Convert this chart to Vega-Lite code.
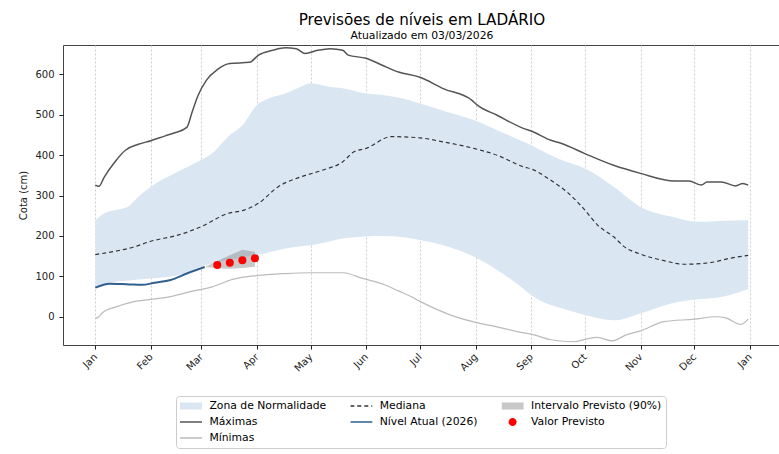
{
  "$schema": "https://vega.github.io/schema/vega-lite/v6.json",
  "autosize": {"type": "none"},
  "padding": {"left": 63, "top": 45, "right": 0, "bottom": 109},
  "width": 718,
  "height": 300,
  "background": "#ffffff",
  "title": {
    "text": "Previsões de níveis em LADÁRIO",
    "subtitle": "Atualizado em 03/03/2026",
    "fontSize": 15.2,
    "fontWeight": "normal",
    "subtitleFontSize": 10.8,
    "anchor": "middle",
    "offset": 4,
    "subtitlePadding": 2,
    "color": "#000000",
    "subtitleColor": "#000000"
  },
  "config": {
    "font": "DejaVu Sans",
    "view": {"stroke": "#444444", "strokeWidth": 1},
    "axis": {"labelColor": "#222222", "tickColor": "#222222", "titleColor": "#222222", "labelFont": "DejaVu Sans", "titleFont": "DejaVu Sans"},
    "legend": {"labelFont": "DejaVu Sans"}
  },
  "datasets": {
    "band": [
      {"date": "2026-01-01", "lo": 74, "hi": 239},
      {"date": "2026-01-06", "lo": 80, "hi": 256},
      {"date": "2026-01-13", "lo": 87, "hi": 265},
      {"date": "2026-01-19", "lo": 89, "hi": 272},
      {"date": "2026-01-25", "lo": 92, "hi": 297},
      {"date": "2026-02-01", "lo": 95, "hi": 322},
      {"date": "2026-02-16", "lo": 103, "hi": 359},
      {"date": "2026-03-01", "lo": 124, "hi": 388},
      {"date": "2026-03-07", "lo": 132, "hi": 404},
      {"date": "2026-03-16", "lo": 140, "hi": 446},
      {"date": "2026-03-24", "lo": 147, "hi": 474},
      {"date": "2026-04-01", "lo": 153, "hi": 524},
      {"date": "2026-04-08", "lo": 160, "hi": 541},
      {"date": "2026-04-17", "lo": 169, "hi": 553},
      {"date": "2026-04-28", "lo": 176, "hi": 574},
      {"date": "2026-05-01", "lo": 177, "hi": 578},
      {"date": "2026-05-12", "lo": 187, "hi": 569},
      {"date": "2026-05-19", "lo": 194, "hi": 566},
      {"date": "2026-06-01", "lo": 199, "hi": 553},
      {"date": "2026-06-09", "lo": 200, "hi": 550},
      {"date": "2026-06-22", "lo": 197, "hi": 540},
      {"date": "2026-07-01", "lo": 190, "hi": 528},
      {"date": "2026-07-14", "lo": 177, "hi": 510},
      {"date": "2026-07-31", "lo": 149, "hi": 487},
      {"date": "2026-08-13", "lo": 116, "hi": 462},
      {"date": "2026-08-28", "lo": 68, "hi": 433},
      {"date": "2026-09-01", "lo": 54, "hi": 425},
      {"date": "2026-09-12", "lo": 29, "hi": 400},
      {"date": "2026-09-18", "lo": 21, "hi": 388},
      {"date": "2026-10-01", "lo": 4, "hi": 367},
      {"date": "2026-10-17", "lo": -9, "hi": 322},
      {"date": "2026-11-01", "lo": 8, "hi": 272},
      {"date": "2026-11-18", "lo": 33, "hi": 248},
      {"date": "2026-12-03", "lo": 43, "hi": 235},
      {"date": "2026-12-18", "lo": 51, "hi": 238},
      {"date": "2026-12-31", "lo": 69, "hi": 239}
    ],
    "maximas": [
      {"date": "2026-01-01", "v": 326},
      {"date": "2026-01-03", "v": 323},
      {"date": "2026-01-06", "v": 346},
      {"date": "2026-01-12", "v": 384},
      {"date": "2026-01-18", "v": 413},
      {"date": "2026-01-25", "v": 427},
      {"date": "2026-02-01", "v": 436},
      {"date": "2026-02-09", "v": 448},
      {"date": "2026-02-14", "v": 455},
      {"date": "2026-02-21", "v": 469},
      {"date": "2026-02-24", "v": 507},
      {"date": "2026-02-27", "v": 545},
      {"date": "2026-03-04", "v": 586},
      {"date": "2026-03-10", "v": 612},
      {"date": "2026-03-17", "v": 627},
      {"date": "2026-03-28", "v": 630},
      {"date": "2026-04-02", "v": 648},
      {"date": "2026-04-10", "v": 660},
      {"date": "2026-04-17", "v": 666},
      {"date": "2026-04-23", "v": 664},
      {"date": "2026-04-28", "v": 652},
      {"date": "2026-05-05", "v": 660},
      {"date": "2026-05-12", "v": 664},
      {"date": "2026-05-19", "v": 660},
      {"date": "2026-05-22", "v": 648},
      {"date": "2026-06-01", "v": 640},
      {"date": "2026-06-10", "v": 623},
      {"date": "2026-06-19", "v": 606},
      {"date": "2026-07-01", "v": 593},
      {"date": "2026-07-14", "v": 565},
      {"date": "2026-07-30", "v": 536},
      {"date": "2026-08-02", "v": 524},
      {"date": "2026-08-13", "v": 499},
      {"date": "2026-08-28", "v": 466},
      {"date": "2026-09-01", "v": 460},
      {"date": "2026-09-12", "v": 437},
      {"date": "2026-09-18", "v": 429},
      {"date": "2026-10-01", "v": 404},
      {"date": "2026-10-17", "v": 375},
      {"date": "2026-11-01", "v": 355},
      {"date": "2026-11-20", "v": 336},
      {"date": "2026-11-28", "v": 336},
      {"date": "2026-12-05", "v": 326},
      {"date": "2026-12-08", "v": 334},
      {"date": "2026-12-16", "v": 334},
      {"date": "2026-12-24", "v": 324},
      {"date": "2026-12-28", "v": 330},
      {"date": "2026-12-31", "v": 326}
    ],
    "minimas": [
      {"date": "2026-01-01", "v": -4},
      {"date": "2026-01-03", "v": 0},
      {"date": "2026-01-05", "v": 10},
      {"date": "2026-01-13", "v": 25},
      {"date": "2026-01-22", "v": 37},
      {"date": "2026-02-01", "v": 43},
      {"date": "2026-02-12", "v": 50},
      {"date": "2026-02-23", "v": 62},
      {"date": "2026-03-07", "v": 74},
      {"date": "2026-03-19", "v": 93},
      {"date": "2026-04-01", "v": 102},
      {"date": "2026-04-17", "v": 107},
      {"date": "2026-05-01", "v": 109},
      {"date": "2026-05-19", "v": 109},
      {"date": "2026-05-30", "v": 95},
      {"date": "2026-06-12", "v": 78},
      {"date": "2026-06-19", "v": 64},
      {"date": "2026-06-26", "v": 50},
      {"date": "2026-07-01", "v": 38},
      {"date": "2026-07-17", "v": 6},
      {"date": "2026-08-01", "v": -14},
      {"date": "2026-08-13", "v": -25},
      {"date": "2026-08-28", "v": -40},
      {"date": "2026-09-01", "v": -43},
      {"date": "2026-09-12", "v": -57},
      {"date": "2026-09-25", "v": -62},
      {"date": "2026-10-01", "v": -56},
      {"date": "2026-10-08", "v": -51},
      {"date": "2026-10-16", "v": -60},
      {"date": "2026-10-24", "v": -45},
      {"date": "2026-11-01", "v": -35},
      {"date": "2026-11-14", "v": -12},
      {"date": "2026-12-01", "v": -6},
      {"date": "2026-12-13", "v": 0},
      {"date": "2026-12-18", "v": -2},
      {"date": "2026-12-27", "v": -19},
      {"date": "2026-12-31", "v": -6}
    ],
    "mediana": [
      {"date": "2026-01-01", "v": 154},
      {"date": "2026-01-13", "v": 163},
      {"date": "2026-01-22", "v": 172},
      {"date": "2026-02-01", "v": 187},
      {"date": "2026-02-16", "v": 202},
      {"date": "2026-03-01", "v": 223},
      {"date": "2026-03-16", "v": 256},
      {"date": "2026-03-25", "v": 264},
      {"date": "2026-04-02", "v": 281},
      {"date": "2026-04-13", "v": 322},
      {"date": "2026-04-26", "v": 347},
      {"date": "2026-05-07", "v": 362},
      {"date": "2026-05-19", "v": 384},
      {"date": "2026-05-25", "v": 408},
      {"date": "2026-06-01", "v": 417},
      {"date": "2026-06-15", "v": 446},
      {"date": "2026-07-01", "v": 443},
      {"date": "2026-07-14", "v": 433},
      {"date": "2026-07-31", "v": 417},
      {"date": "2026-08-13", "v": 400},
      {"date": "2026-08-28", "v": 371},
      {"date": "2026-09-01", "v": 366},
      {"date": "2026-09-12", "v": 338},
      {"date": "2026-09-21", "v": 309},
      {"date": "2026-10-01", "v": 264},
      {"date": "2026-10-08", "v": 227},
      {"date": "2026-10-17", "v": 198},
      {"date": "2026-10-23", "v": 173},
      {"date": "2026-11-01", "v": 155},
      {"date": "2026-11-14", "v": 139},
      {"date": "2026-11-25", "v": 130},
      {"date": "2026-12-10", "v": 134},
      {"date": "2026-12-21", "v": 145},
      {"date": "2026-12-31", "v": 152}
    ],
    "atual": [
      {"date": "2026-01-01", "v": 72},
      {"date": "2026-01-09", "v": 82},
      {"date": "2026-01-20", "v": 80},
      {"date": "2026-01-27", "v": 79},
      {"date": "2026-02-03", "v": 84},
      {"date": "2026-02-12", "v": 91},
      {"date": "2026-02-21", "v": 107},
      {"date": "2026-02-27", "v": 117},
      {"date": "2026-03-03", "v": 123}
    ],
    "intervalo": [
      {"date": "2026-03-03", "lo": 123, "hi": 123},
      {"date": "2026-03-10", "lo": 120, "hi": 138},
      {"date": "2026-03-17", "lo": 119, "hi": 152},
      {"date": "2026-03-24", "lo": 121, "hi": 166},
      {"date": "2026-03-31", "lo": 124, "hi": 161}
    ],
    "previsto": [
      {"date": "2026-03-10", "v": 128},
      {"date": "2026-03-17", "v": 134},
      {"date": "2026-03-24", "v": 140},
      {"date": "2026-03-31", "v": 145}
    ],
    "legenda": [
      {"serie": "Zona de Normalidade"},
      {"serie": "Mediana"},
      {"serie": "Intervalo Previsto (90%)"},
      {"serie": "Máximas"},
      {"serie": "Nível Atual (2026)"},
      {"serie": "Valor Previsto"},
      {"serie": "Mínimas"}
    ]
  },
  "layer": [
    {
      "data": {"name": "band"},
      "mark": {"type": "area", "fill": "#dbe6f3", "opacity": 1, "interpolate": "monotone"},
      "encoding": {
        "x": {
          "field": "date", "type": "temporal",
          "scale": {"type": "utc", "domain": [{"year": 2025, "month": 12, "date": 14, "utc": true}, {"year": 2027, "month": 1, "date": 18, "hours": 7, "utc": true}]},
          "axis": {
            "values": [
              {"year": 2026, "month": 1, "date": 1, "utc": true},
              {"year": 2026, "month": 2, "date": 1, "utc": true},
              {"year": 2026, "month": 3, "date": 1, "utc": true},
              {"year": 2026, "month": 4, "date": 1, "utc": true},
              {"year": 2026, "month": 5, "date": 1, "utc": true},
              {"year": 2026, "month": 6, "date": 1, "utc": true},
              {"year": 2026, "month": 7, "date": 1, "utc": true},
              {"year": 2026, "month": 8, "date": 1, "utc": true},
              {"year": 2026, "month": 9, "date": 1, "utc": true},
              {"year": 2026, "month": 10, "date": 1, "utc": true},
              {"year": 2026, "month": 11, "date": 1, "utc": true},
              {"year": 2026, "month": 12, "date": 1, "utc": true},
              {"year": 2027, "month": 1, "date": 1, "utc": true}
            ],
            "format": "%b",
            "labelAngle": -45,
            "labelAlign": "right",
            "labelBaseline": "middle",
            "labelOverlap": false,
            "labelFontSize": 10,
            "labelPadding": 6,
            "grid": true,
            "gridDash": [2, 2],
            "gridColor": "#cfcfcf",
            "tickSize": 4,
            "domain": false,
            "title": null
          }
        },
        "y": {
          "field": "lo", "type": "quantitative",
          "scale": {"domain": [-70, 673], "nice": false, "zero": false},
          "axis": {
            "values": [0, 100, 200, 300, 400, 500, 600],
            "grid": false,
            "domain": false,
            "tickSize": 4,
            "labelFontSize": 10,
            "labelPadding": 5,
            "title": "Cota (cm)",
            "titleFontSize": 10,
            "titleFontWeight": "normal",
            "titlePadding": 6
          }
        },
        "y2": {"field": "hi"}
      }
    },
    {
      "data": {"name": "mediana"},
      "mark": {"type": "line", "stroke": "#333333", "strokeWidth": 1.2, "strokeDash": [4, 3], "interpolate": "monotone"},
      "encoding": {
        "x": {"field": "date", "type": "temporal"},
        "y": {"field": "v", "type": "quantitative"}
      }
    },
    {
      "data": {"name": "intervalo"},
      "mark": {"type": "area", "fill": "#888888", "opacity": 0.45},
      "encoding": {
        "x": {"field": "date", "type": "temporal"},
        "y": {"field": "lo", "type": "quantitative"},
        "y2": {"field": "hi"}
      }
    },
    {
      "data": {"name": "maximas"},
      "mark": {"type": "line", "stroke": "#555555", "strokeWidth": 1.5, "interpolate": "monotone"},
      "encoding": {
        "x": {"field": "date", "type": "temporal"},
        "y": {"field": "v", "type": "quantitative"}
      }
    },
    {
      "data": {"name": "atual"},
      "mark": {"type": "line", "stroke": "#31608f", "strokeWidth": 2, "interpolate": "monotone"},
      "encoding": {
        "x": {"field": "date", "type": "temporal"},
        "y": {"field": "v", "type": "quantitative"}
      }
    },
    {
      "data": {"name": "previsto"},
      "mark": {"type": "circle", "size": 64, "opacity": 1, "color": "#ff0000"},
      "encoding": {
        "x": {"field": "date", "type": "temporal"},
        "y": {"field": "v", "type": "quantitative"}
      }
    },
    {
      "data": {"name": "minimas"},
      "mark": {"type": "line", "stroke": "#bbbbbb", "strokeWidth": 1.2, "interpolate": "monotone"},
      "encoding": {
        "x": {"field": "date", "type": "temporal"},
        "y": {"field": "v", "type": "quantitative"}
      }
    },
    {
      "data": {"name": "legenda"},
      "mark": {"type": "point", "opacity": 0},
      "encoding": {
        "fill": {
          "field": "serie", "type": "nominal",
          "scale": {
            "domain": ["Zona de Normalidade", "Mediana", "Intervalo Previsto (90%)", "Máximas", "Nível Atual (2026)", "Valor Previsto", "Mínimas"],
            "range": ["#dbe6f3", "transparent", "#c8c8c8", "transparent", "transparent", "#ff0000", "transparent"]
          },
          "legend": {"title": null, "orient": "none", "legendX": 113, "legendY": 351, "direction": "horizontal", "columns": 3, "symbolSize": 100, "symbolOffset": 5, "labelOffset": 12.4, "clipHeight": 12, "rowPadding": 4, "columnPadding": 23.3, "padding": 4, "strokeColor": "#cccccc", "fillColor": "#ffffff", "cornerRadius": 3, "labelFontSize": 10.8, "labelColor": "#000000", "symbolStrokeWidth": 1.5, "symbolOpacity": 1}
        },
        "stroke": {
          "field": "serie", "type": "nominal",
          "scale": {
            "domain": ["Zona de Normalidade", "Mediana", "Intervalo Previsto (90%)", "Máximas", "Nível Atual (2026)", "Valor Previsto", "Mínimas"],
            "range": ["transparent", "#333333", "transparent", "#555555", "#31608f", "transparent", "#bbbbbb"]
          },
          "legend": {"title": null, "orient": "none", "legendX": 113, "legendY": 351, "direction": "horizontal", "columns": 3, "symbolSize": 100, "symbolOffset": 5, "labelOffset": 12.4, "clipHeight": 12, "rowPadding": 4, "columnPadding": 23.3, "padding": 4, "strokeColor": "#cccccc", "fillColor": "#ffffff", "cornerRadius": 3, "labelFontSize": 10.8, "labelColor": "#000000", "symbolStrokeWidth": 1.5, "symbolOpacity": 1}
        },
        "shape": {
          "field": "serie", "type": "nominal",
          "scale": {
            "domain": ["Zona de Normalidade", "Mediana", "Intervalo Previsto (90%)", "Máximas", "Nível Atual (2026)", "Valor Previsto", "Mínimas"],
            "range": ["M-2.2,-0.7H2.2V0.7H-2.2Z", "M-2.2,0H2.2", "M-2.2,-0.7H2.2V0.7H-2.2Z", "M-2.2,0H2.2", "M-2.2,0H2.2", "M-0.8,0A0.8,0.8,0,1,1,0.8,0A0.8,0.8,0,1,1,-0.8,0Z", "M-2.2,0H2.2"]
          },
          "legend": {"title": null, "orient": "none", "legendX": 113, "legendY": 351, "direction": "horizontal", "columns": 3, "symbolSize": 100, "symbolOffset": 5, "labelOffset": 12.4, "clipHeight": 12, "rowPadding": 4, "columnPadding": 23.3, "padding": 4, "strokeColor": "#cccccc", "fillColor": "#ffffff", "cornerRadius": 3, "labelFontSize": 10.8, "labelColor": "#000000", "symbolStrokeWidth": 1.5, "symbolOpacity": 1}
        },
        "strokeDash": {
          "field": "serie", "type": "nominal",
          "scale": {
            "domain": ["Zona de Normalidade", "Mediana", "Intervalo Previsto (90%)", "Máximas", "Nível Atual (2026)", "Valor Previsto", "Mínimas"],
            "range": [[1, 0], [4, 3], [1, 0], [1, 0], [1, 0], [1, 0], [1, 0]]
          },
          "legend": {"title": null, "orient": "none", "legendX": 113, "legendY": 351, "direction": "horizontal", "columns": 3, "symbolSize": 100, "symbolOffset": 5, "labelOffset": 12.4, "clipHeight": 12, "rowPadding": 4, "columnPadding": 23.3, "padding": 4, "strokeColor": "#cccccc", "fillColor": "#ffffff", "cornerRadius": 3, "labelFontSize": 10.8, "labelColor": "#000000", "symbolStrokeWidth": 1.5, "symbolOpacity": 1}
        }
      }
    }
  ]
}
